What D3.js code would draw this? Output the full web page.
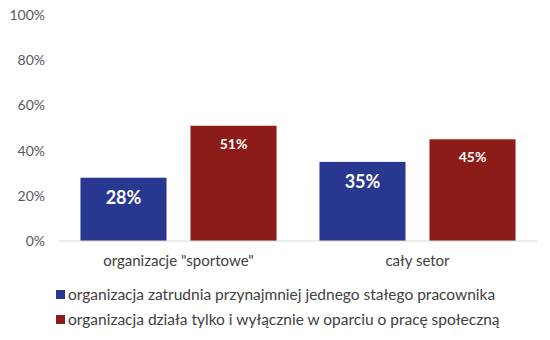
<!DOCTYPE html>
<html>
<head>
<meta charset="utf-8">
<script src="https://cdn.jsdelivr.net/npm/d3@7"></script>
<style>
  html, body { margin: 0; padding: 0; background: #fff; }
  svg { display: block; }
  text { font-family: Lato, "Open Sans", "Liberation Sans", sans-serif; }
</style>
</head>
<body>
<svg id="chart" width="550" height="340"></svg>
<script>
// Share of organisations by staffing model
const categories = ['organizacje "sportowe"', 'cały setor'];
const seriesNames = [
  'organizacja zatrudnia przynajmniej jednego stałego pracownika',
  'organizacja działa tylko i wyłącznie w oparciu o pracę społeczną'
];
const employing = [28, 35];
const volunteerOnly = [51, 45];
const yTicks = [0, 20, 40, 60, 80, 100];

const colors = ['#283891', '#8d1b18'];
const series = [employing, volunteerOnly];

const svg = d3.select('#chart');
const margin = { top: 15, right: 13, bottom: 99, left: 59 };
const width = 550 - margin.left - margin.right;
const height = 340 - margin.top - margin.bottom;

const g = svg.append('g').attr('transform', `translate(${margin.left},${margin.top})`);

const x0 = d3.scaleBand().domain(categories).range([0, width]).paddingInner(0).paddingOuter(0);
const x1 = d3.scaleBand().domain(d3.range(series.length)).range([0, x0.bandwidth()])
  .paddingInner(0.218).paddingOuter(0.195);
const y = d3.scaleLinear().domain([0, 100]).range([height, 0]);

// y axis labels, no axis line
const yAxis = g.append('g').call(
  d3.axisLeft(y).tickValues(yTicks).tickFormat(d => d + '%').tickSize(0).tickPadding(14)
);
yAxis.select('.domain').remove();
yAxis.selectAll('text')
  .style('font-size', '14px')
  .style('fill', '#595959')
  .style('font-family', 'Lato, "Open Sans", sans-serif');

// bars with value labels inside
categories.forEach((cat, ci) => {
  series.forEach((vals, si) => {
    const v = vals[ci];
    const bx = x0(cat) + x1(si);
    g.append('rect')
      .attr('x', bx)
      .attr('y', y(v))
      .attr('width', x1.bandwidth())
      .attr('height', y(0) - y(v))
      .attr('fill', colors[si]);
    const big = si === 0;
    g.append('text')
      .attr('x', bx + x1.bandwidth() / 2)
      .attr('y', y(v) + (big ? 26 : 23))
      .attr('text-anchor', 'middle')
      .style('font-size', big ? '18px' : '14px')
      .style('font-weight', 'bold')
      .style('fill', '#fff')
      .text(v + '%');
  });
});

// baseline
g.append('line')
  .attr('x1', 0).attr('x2', width)
  .attr('y1', y(0)).attr('y2', y(0))
  .attr('stroke', '#d9d9d9').attr('stroke-width', 1);

// category labels
const xAxis = g.append('g').attr('transform', `translate(0,${height})`)
  .call(d3.axisBottom(x0).tickSize(0).tickPadding(14));
xAxis.select('.domain').remove();
xAxis.selectAll('text')
  .style('font-size', '15px')
  .style('fill', '#404040')
  .style('font-family', 'Lato, "Open Sans", sans-serif');

// legend
const legend = svg.append('g').attr('transform', 'translate(56,290)');
seriesNames.forEach((name, i) => {
  const row = legend.append('g').attr('transform', `translate(0,${i * 25})`);
  row.append('rect').attr('x', 0).attr('y', 0).attr('width', 9).attr('height', 9).attr('fill', colors[i]);
  row.append('text').attr('x', 12).attr('y', 9.5)
    .style('font-size', '15.5px')
    .style('fill', '#404040')
    .text(name);
});
</script>
</body>
</html>
